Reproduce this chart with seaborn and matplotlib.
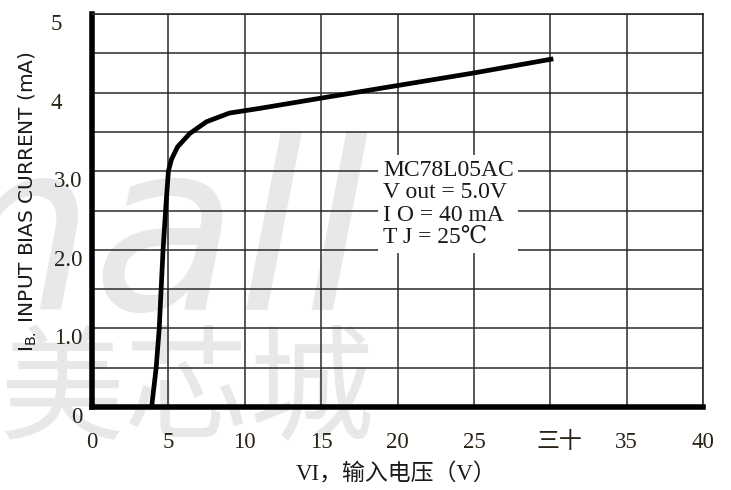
import matplotlib
matplotlib.use("Agg")
import matplotlib.pyplot as plt
import seaborn as sns
from matplotlib.transforms import ScaledTranslation

# Input bias current vs. input voltage (MC78L05AC)
vin = [3.9, 4.2, 4.4, 4.65, 4.85, 5.0, 5.2, 5.6, 6.4, 7.5, 9.0, 11.0, 15.0, 20.0, 25.0, 30.2]
ib = [0.0, 0.5, 1.0, 2.0, 2.6, 3.0, 3.15, 3.31, 3.48, 3.63, 3.74, 3.80, 3.93, 4.09, 4.25, 4.43]

x_ticks = [0, 5, 10, 15, 20, 25, 30, 35, 40]
x_tick_labels = ["0", "5", "10", "15", "20", "25", "三十", "35", "40"]
y_ticks = [0, 1, 2, 3, 4, 5]
y_tick_labels = ["0", "1.0", "2.0", "3.0", "4", "5"]
y_minor = [0.5, 1.5, 2.5, 3.5, 4.5]
note_lines = ["MC78L05AC", "V out = 5.0V", "I O = 40 mA", "T J = 25℃"]

sns.set_style("white")
plt.rcParams["font.family"] = ["Liberation Serif", "Noto Sans CJK SC", "DejaVu Sans"]

fig = plt.figure(figsize=(7.31, 4.9), dpi=100)
fig.patch.set_facecolor("white")
ax = fig.add_axes([0.1259, 0.1694, 0.8358, 0.802])
ax.set_facecolor("none")

# faint watermark behind the plot
fig.text(0.506, 0.367, "mall", fontsize=170, style="italic", color="#e8e8e8",
         family="DejaVu Sans", ha="right", va="baseline", zorder=-5)
fig.text(0.513, 0.194, "美芯城", fontsize=90, color="#e8e8e8",
         family="Noto Sans CJK SC", ha="right", va="center", zorder=-5)

sns.lineplot(x=vin, y=ib, ax=ax, color="black", linewidth=3.4, sort=False,
             solid_capstyle="butt", zorder=4)

ax.set_xlim(0, 40)
ax.set_ylim(0, 5)
ax.set_xticks(x_ticks)
ax.set_xticklabels(x_tick_labels)
ax.set_yticks(y_ticks)
ax.set_yticklabels(y_tick_labels)
ax.set_yticks(y_minor, minor=True)

ax.grid(True, which="both", color="#2a2a2a", linewidth=1.1)
ax.set_axisbelow(True)

for side in ("left", "bottom"):
    ax.spines[side].set_linewidth(4.0)
    ax.spines[side].set_color("black")
for side in ("top", "right"):
    ax.spines[side].set_linewidth(1.2)
    ax.spines[side].set_color("#2a2a2a")

ax.tick_params(axis="both", which="both", length=0, labelsize=16.5, labelcolor="#2a2216")
ax.tick_params(axis="x", pad=18)
ax.tick_params(axis="y", pad=7)

for lab in ax.get_yticklabels():
    lab.set_verticalalignment("top")
    if lab.get_text() in ("4", "5"):
        lab.set_transform(lab.get_transform() + ScaledTranslation(-0.2, 0, fig.dpi_scale_trans))
for lab in ax.get_xticklabels():
    if lab.get_text() == "三十":
        lab.set_transform(lab.get_transform() + ScaledTranslation(0.09, 0, fig.dpi_scale_trans))

ax.set_ylabel(r"I$_{\mathregular{B.}}$ INPUT BIAS CURRENT (mA)", fontsize=14.5,
              family=["Liberation Sans Narrow", "DejaVu Sans"], color="#1a1a1a")
ax.yaxis.set_label_coords(-0.086, 0.524)

ax.set_xlabel("VI，输入电压（V）", fontsize=16.5, color="#1a1a1a")
ax.xaxis.set_label_coords(0.497, -0.142)

ax.text(19.05, 3.14, "\n".join(note_lines), fontsize=17, color="#1a1a1a",
        family=["Liberation Serif", "DejaVu Serif", "DejaVu Sans"],
        ha="left", va="top", linespacing=1.08, zorder=3,
        bbox=dict(boxstyle="square,pad=0.2", facecolor="white", edgecolor="none"))

fig.savefig("out.png", dpi=100, facecolor="white")
